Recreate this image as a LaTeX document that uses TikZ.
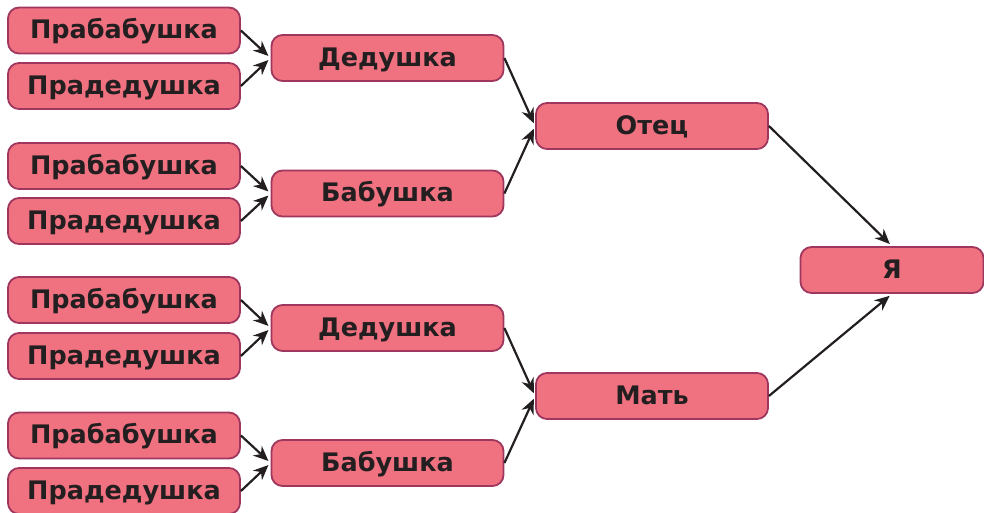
\documentclass[tikz,border=0pt]{standalone}
\usepackage{fontspec}
\setmainfont{DejaVu Sans}
\usetikzlibrary{arrows.meta}
\definecolor{boxfill}{RGB}{240,114,128}
\definecolor{boxline}{RGB}{158,54,94}
\definecolor{textdark}{RGB}{35,31,32}

\begin{document}
\begin{tikzpicture}[x=1pt, y=-1pt,
        person/.style={draw=boxline, fill=boxfill, line width=1.8pt, rounded corners=11pt,
            minimum width=232pt, minimum height=46pt, inner sep=0pt,
            text height=19pt, text depth=2.5pt, text=textdark,
            font=\fontsize{25.5}{30}\selectfont\bfseries},
        link/.style={-{Stealth[length=15pt,width=13pt]}, line width=2.2pt, draw=textdark, shorten >=3pt}]
        \useasboundingbox (0,0) rectangle (984,513);
        % great-grandparents
        \node[person] (pb1) at (124,30.5) {Прабабушка};
        \node[person] (pd1) at (124,86) {Прадедушка};
        \node[person] (pb2) at (124,166) {Прабабушка};
        \node[person] (pd2) at (124,221) {Прадедушка};
        \node[person] (pb3) at (124,300) {Прабабушка};
        \node[person] (pd3) at (124,356) {Прадедушка};
        \node[person] (pb4) at (124,435.5) {Прабабушка};
        \node[person] (pd4) at (124,491) {Прадедушка};
        % grandparents
        \node[person] (ded1) at (387.5,58) {Дедушка};
        \node[person] (bab1) at (387.5,193.5) {Бабушка};
        \node[person] (ded2) at (387.5,328) {Дедушка};
        \node[person] (bab2) at (387.5,463) {Бабушка};
        % parents
        \node[person] (otec) at (652,126) {Отец};
        \node[person] (mat) at (652,396) {Мать};
        \node[person, minimum width=183pt] (ya) at (892,270) {Я};
        % arrows
        \draw[link] (pb1.east) -- (ded1.west);
        \draw[link] (pd1.east) -- (ded1.west);
        \draw[link] (pb2.east) -- (bab1.west);
        \draw[link] (pd2.east) -- (bab1.west);
        \draw[link] (pb3.east) -- (ded2.west);
        \draw[link] (pd3.east) -- (ded2.west);
        \draw[link] (pb4.east) -- (bab2.west);
        \draw[link] (pd4.east) -- (bab2.west);
        \draw[link] (ded1.east) -- (otec.west);
        \draw[link] (bab1.east) -- (otec.west);
        \draw[link] (ded2.east) -- (mat.west);
        \draw[link] (bab2.east) -- (mat.west);
        \draw[link] (otec.east) -- (ya.north);
        \draw[link] (mat.east) -- (ya.south);
\end{tikzpicture}
\end{document}
